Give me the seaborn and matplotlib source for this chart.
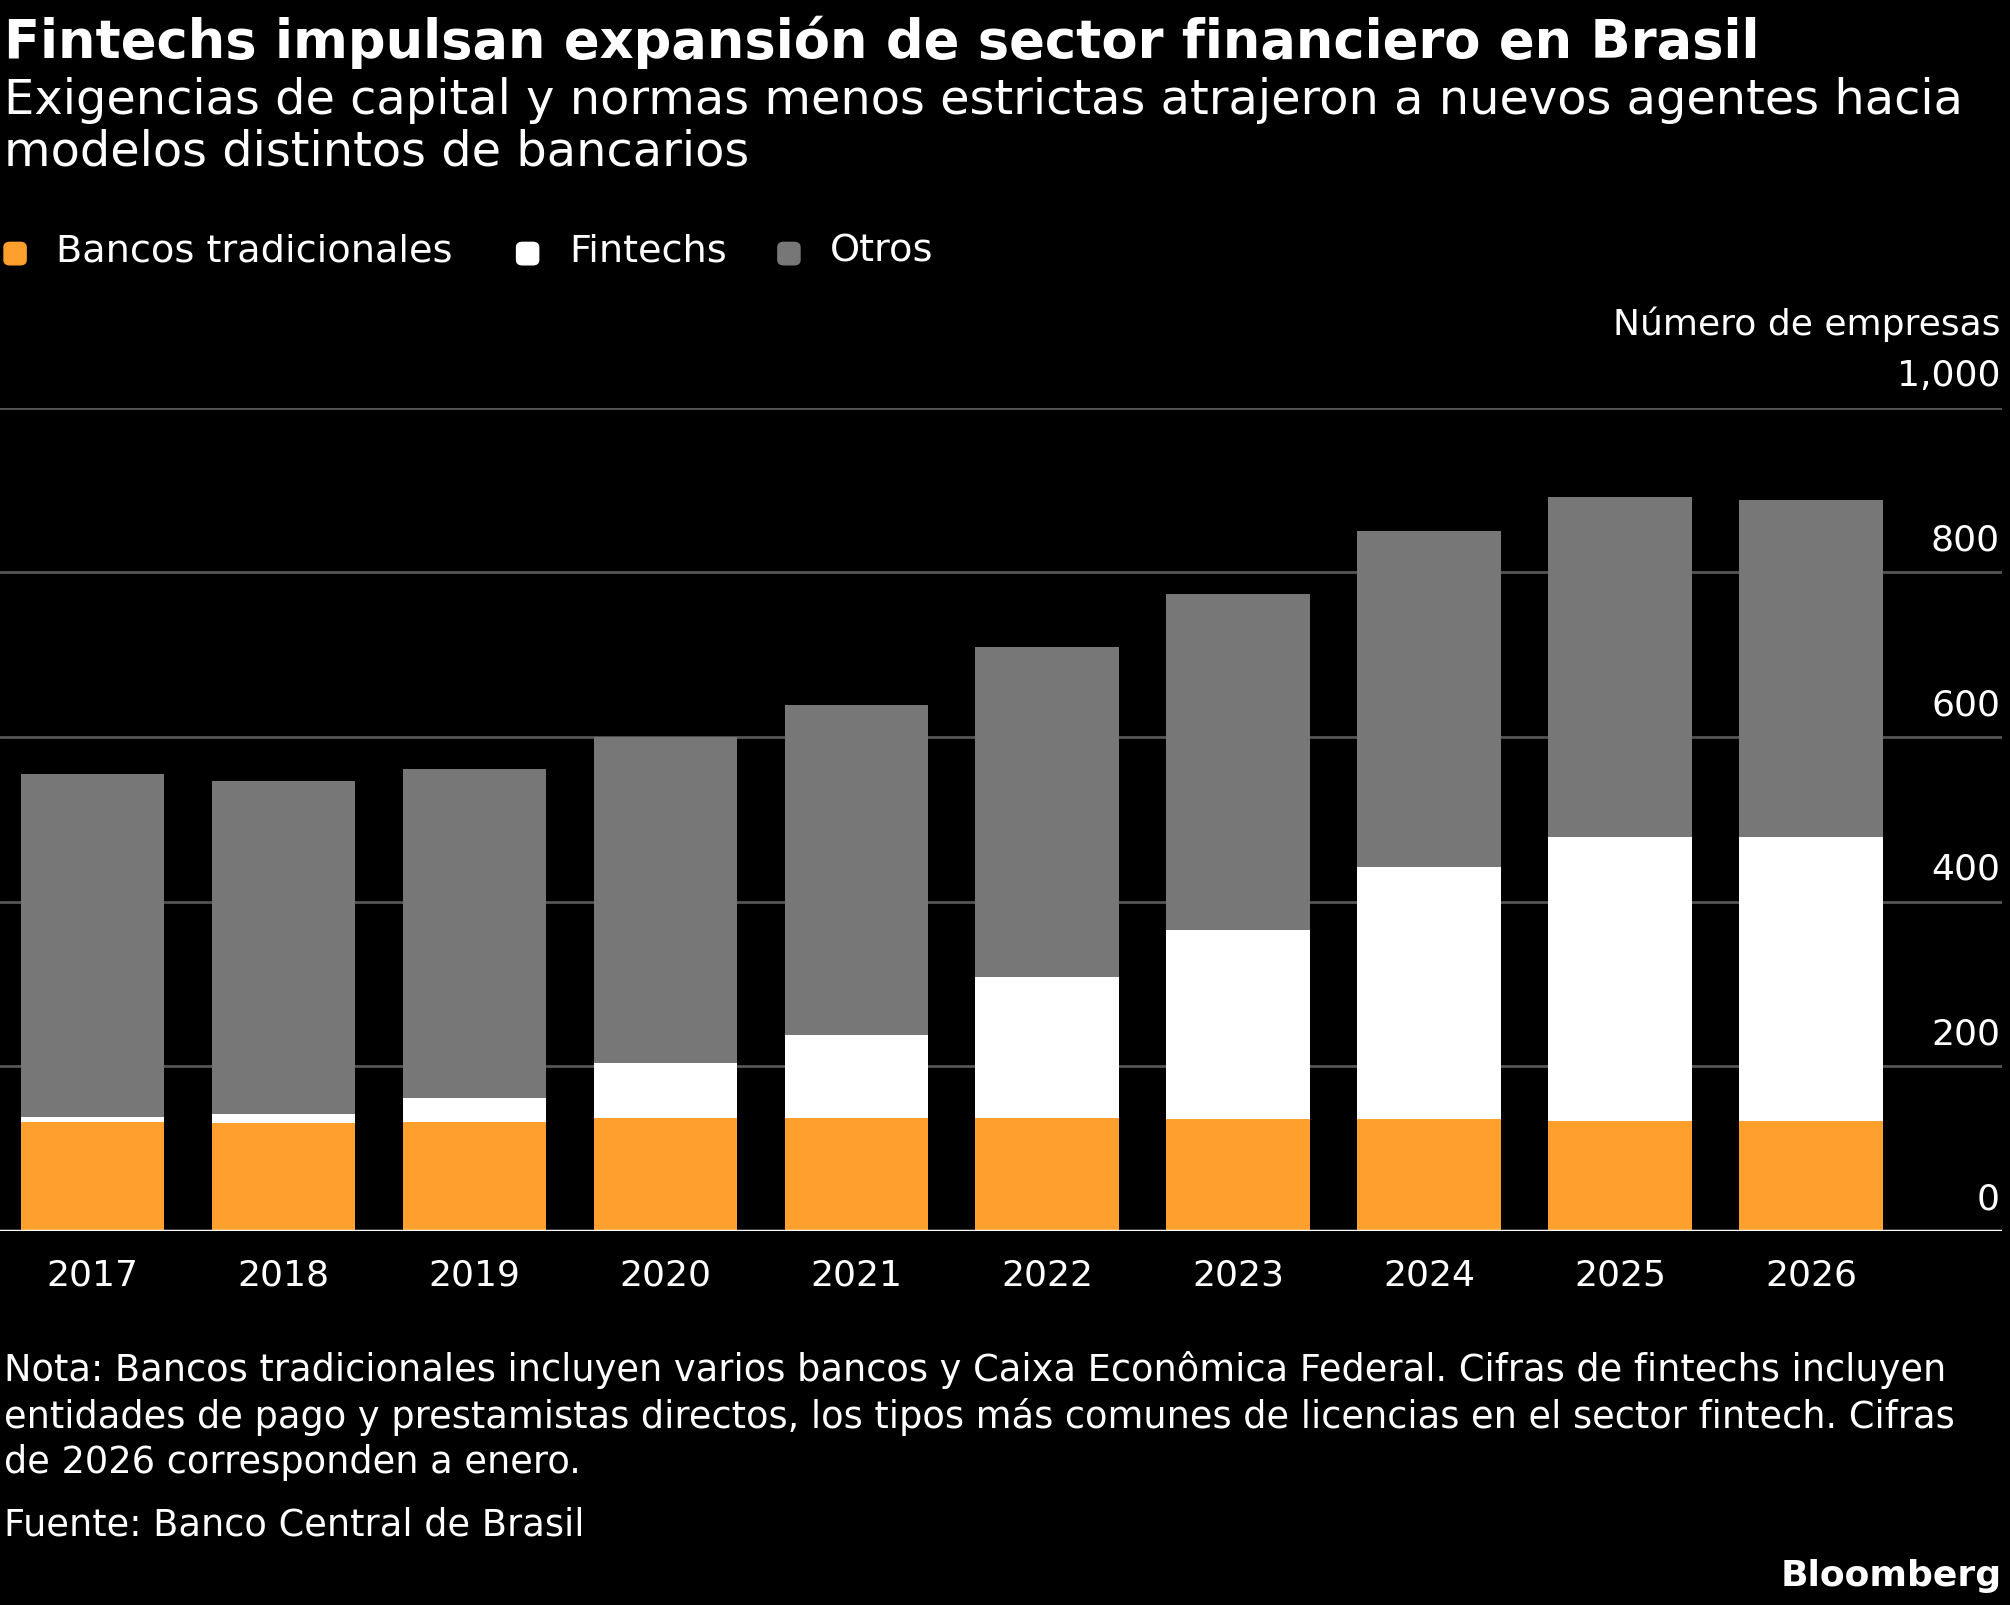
import seaborn as sns
import matplotlib.pyplot as plt
import pandas as pd
from matplotlib.patches import FancyBboxPatch

years = ["2017", "2018", "2019", "2020", "2021", "2022", "2023", "2024", "2025", "2026"]
bancos = [132, 131, 132, 137, 137, 137, 136, 136, 134, 134]
fintechs = [7, 11, 30, 67, 101, 171, 230, 306, 344, 344]
otros = [416, 405, 399, 396, 401, 401, 408, 408, 413, 410]

df = pd.DataFrame({"year": years, "bancos": bancos, "fintechs": fintechs, "otros": otros})
df["c_fin"] = df["bancos"] + df["fintechs"]
df["c_tot"] = df["c_fin"] + df["otros"]

sns.set_style("dark")
plt.rcParams["font.family"] = ["DejaVu Sans"]
fig = plt.figure(figsize=(20.1, 16.05), dpi=100, facecolor="black")
ax = fig.add_axes([0.0, 0.233, 0.996, 0.513])
ax.set_facecolor("black")

for col, c in [("c_tot", "#777777"), ("c_fin", "white"), ("bancos", "#FFA02E")]:
    sns.barplot(data=df, x="year", y=col, color=c, width=0.75, saturation=1,
                linewidth=0, edgecolor="none", ax=ax)

ax.set_ylim(0, 1000)
ax.set_xlim(-0.483, 10.0)
ax.set_xlabel("")
ax.set_ylabel("")
for v in [200, 400, 600, 800, 1000]:
    ax.axhline(v, color="#555555", lw=2, zorder=0)
ax.axhline(0, color="white", lw=2.5, zorder=5)
ax.set_yticks([])
for v in [0, 200, 400, 600, 800, 1000]:
    ax.text(9.99, v + 18, f"{v:,}", color="white", fontsize=26, ha="right", va="bottom")
ax.text(9.99, 1080, "Número de empresas", color="white", fontsize=26, ha="right", va="bottom")
ax.tick_params(axis="x", colors="white", labelsize=26, length=8, width=1.5, pad=12)
for s in ax.spines.values():
    s.set_visible(False)

fig.text(0.002, 0.99, "Fintechs impulsan expansión de sector financiero en Brasil",
         color="white", fontsize=38, fontweight="bold", va="top")
fig.text(0.002, 0.952, "Exigencias de capital y normas menos estrictas atrajeron a nuevos agentes hacia\nmodelos distintos de bancarios",
         color="white", fontsize=34.5, va="top", linespacing=1.12)

items = [("Bancos tradicionales", "#FFA02E", 0.002), ("Fintechs", "white", 0.257), ("Otros", "#777777", 0.387)]
for lab, col, x in items:
    fig.patches.append(FancyBboxPatch((x, 0.835), 0.011, 0.014, boxstyle="round,pad=0,rounding_size=0.003",
                                      color=col, transform=fig.transFigure))
    fig.text(x + 0.026, 0.843, lab, color="white", fontsize=27.5, va="center")

fig.text(0.002, 0.158, "Nota: Bancos tradicionales incluyen varios bancos y Caixa Econômica Federal. Cifras de fintechs incluyen\n"
         "entidades de pago y prestamistas directos, los tipos más comunes de licencias en el sector fintech. Cifras\n"
         "de 2026 corresponden a enero.", color="white", fontsize=26.5, va="top", linespacing=1.28)
fig.text(0.002, 0.05, "Fuente: Banco Central de Brasil", color="white", fontsize=26.5, va="center")
fig.text(0.996, 0.018, "Bloomberg", color="white", fontsize=26, fontweight="bold", ha="right", va="center")

fig.savefig("out.png", dpi=100, facecolor="black")
